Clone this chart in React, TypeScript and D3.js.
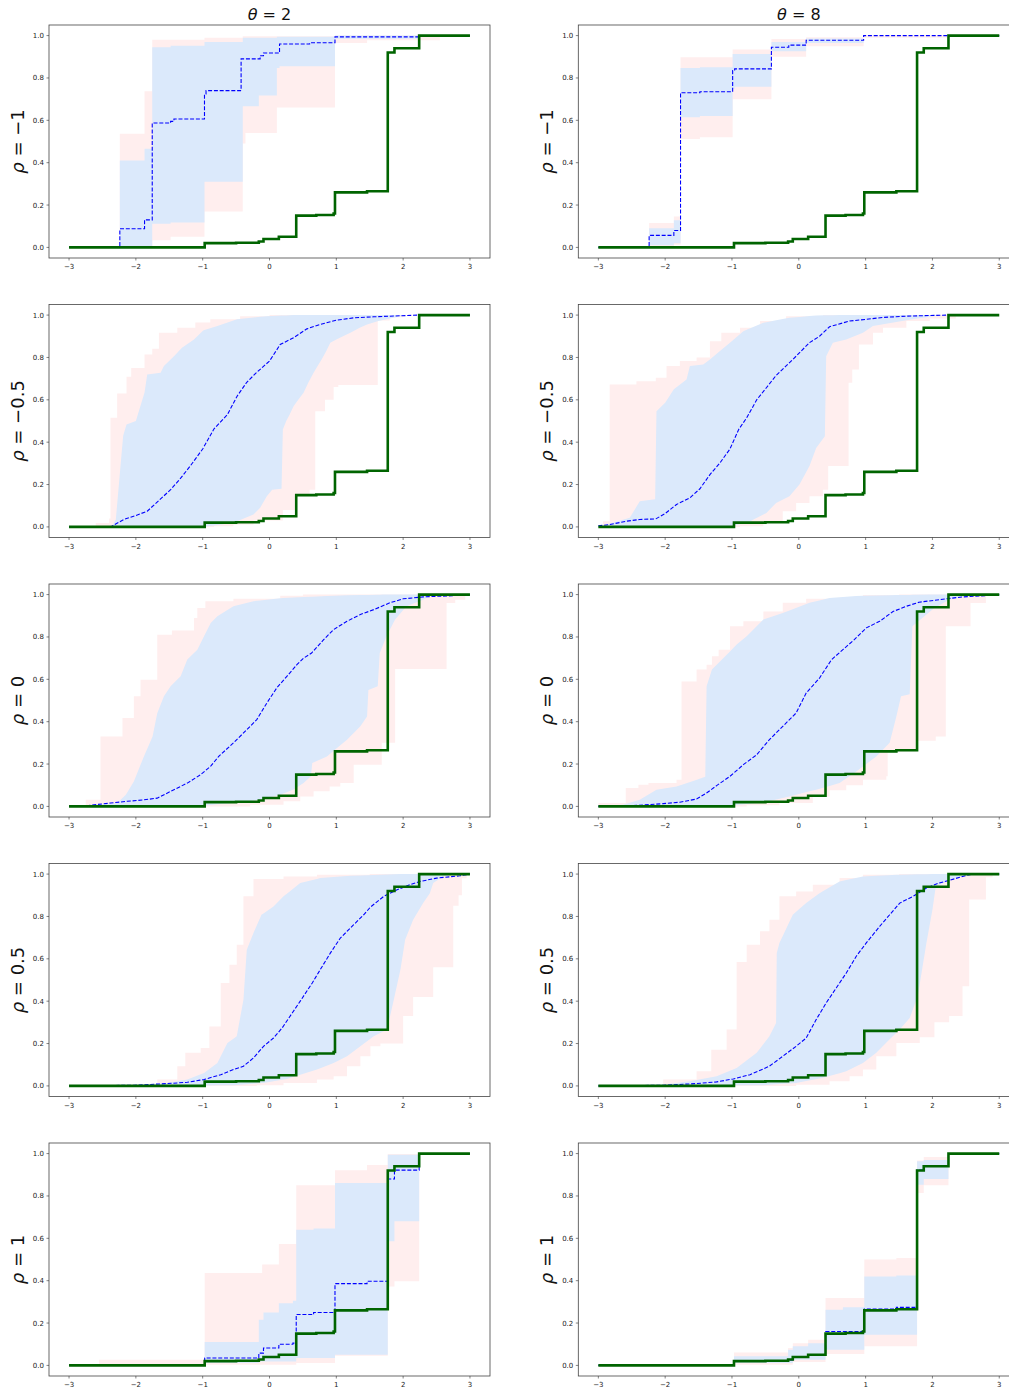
import React from 'react';
import * as d3 from 'd3';

type Pt = [number, number];

// ---------- data ----------
const thetaLabels = ['2', '8'];
const rhoLabels = ['\u22121', '\u22120.5', '0', '0.5', '1'];
const xTicks = [-3, -2, -1, 0, 1, 2, 3];
const yTicks = [0, 0.2, 0.4, 0.6, 0.8, 1.0];

const greenPts: Pt[] = [[-3,0],[-0.97,0.02],[-0.5,0.022],[-0.16,0.028],[-0.09,0.04],[0.14,0.05],[0.40,0.15],[0.70,0.153],[0.96,0.16],[0.98,0.26],[1.46,0.265],[1.77,0.92],[1.87,0.94],[2.24,1],[3,1]];

// rho=-1, theta=2
const medA: Pt[] = [[-3,0],[-2.24,0.088],[-1.87,0.13],[-1.755,0.587],[-1.48,0.595],[-1.43,0.606],[-0.973,0.724],[-0.95,0.74],[-0.425,0.89],[-0.14,0.905],[-0.09,0.918],[0.15,0.96],[0.6,0.966],[0.98,0.994],[2.24,1]];
const blueLoA: Pt[] = [[-3,0],[-1.755,0.112],[-1.48,0.118],[-0.973,0.31],[-0.40,0.666],[-0.16,0.717],[0.11,0.847],[0.15,0.855],[0.98,0.985],[2.24,1]];
const blueHiA: Pt[] = [[-3,0],[-2.24,0.41],[-1.87,0.466],[-1.755,0.945],[-1.48,0.952],[-0.973,0.97],[-0.40,0.99],[0.11,0.995],[0.98,1]];
const pinkLoA: Pt[] = [[-3,0],[-1.755,0.034],[-1.48,0.05],[-0.973,0.17],[-0.40,0.49],[-0.36,0.54],[0.11,0.66],[0.98,0.965],[1.46,0.978],[2.55,1]];
const pinkHiA: Pt[] = [[-3,0],[-2.24,0.537],[-1.87,0.737],[-1.755,0.98],[-0.973,0.99],[-0.40,0.997],[0.98,1]];

// rho=-1, theta=8
const medB: Pt[] = [[-3,0],[-2.24,0.057],[-1.87,0.08],[-1.77,0.73],[-1.48,0.735],[-0.99,0.835],[-0.96,0.843],[-0.41,0.945],[-0.15,0.955],[0.11,0.978],[0.97,1.0]];
const blueLoB: Pt[] = [[-3,0],[-2.24,0.01],[-1.87,0.02],[-1.77,0.615],[-1.48,0.62],[-0.99,0.748],[-0.96,0.758],[-0.41,0.926],[0.11,0.965],[0.97,1]];
const blueHiB: Pt[] = [[-3,0],[-2.24,0.09],[-1.87,0.128],[-1.77,0.847],[-1.48,0.85],[-0.99,0.913],[-0.41,0.97],[0.11,0.986],[0.97,1]];
const pinkLoB: Pt[] = [[-3,0],[-1.87,0.012],[-1.77,0.512],[-1.48,0.52],[-0.99,0.70],[-0.41,0.90],[0.11,0.95],[0.97,0.99],[2.24,1]];
const pinkHiB: Pt[] = [[-3,0],[-2.24,0.115],[-1.87,0.146],[-1.77,0.898],[-0.99,0.934],[-0.41,0.984],[0.11,0.992],[0.97,1]];

// rho=-0.5, theta=2
const medC: Pt[] = [[-3,0],[-2.38,0.0],[-2.18,0.035],[-2.0,0.054],[-1.83,0.074],[-1.63,0.132],[-1.48,0.176],[-1.33,0.23],[-1.18,0.29],[-1.0,0.368],[-0.83,0.463],[-0.63,0.53],[-0.485,0.617],[-0.34,0.683],[-0.19,0.73],[0,0.783],[0.16,0.861],[0.36,0.893],[0.56,0.935],[0.76,0.956],[1.0,0.976],[1.26,0.987],[1.56,0.992],[2.23,1.0],[3,1]];
const blueLoC: Pt[] = [[-3,0],[-1.0,0.0],[-0.54,0.02],[-0.24,0.058],[-0.14,0.09],[-0.04,0.145],[0.04,0.176],[0.18,0.18],[0.2,0.46],[0.25,0.5],[0.3,0.53],[0.36,0.57],[0.43,0.6],[0.51,0.633],[0.58,0.68],[0.66,0.728],[0.72,0.76],[0.78,0.79],[0.85,0.83],[0.91,0.87],[1.0,0.885],[1.1,0.9],[1.21,0.917],[1.35,0.94],[1.46,0.956],[1.63,0.972],[1.855,0.987],[2.05,1]];
const blueHiC: Pt[] = [[-3,0],[-2.36,0.0],[-2.30,0.035],[-2.23,0.287],[-2.19,0.43],[-2.14,0.483],[-2.0,0.5],[-1.87,0.635],[-1.83,0.72],[-1.63,0.728],[-1.58,0.76],[-1.43,0.806],[-1.31,0.846],[-1.13,0.885],[-0.985,0.929],[-0.78,0.948],[-0.485,0.98],[-0.04,0.995],[0.36,1]];
const pinkLoC: Pt[] = [[-3,0],[-0.83,0.003],[-0.54,0.011],[-0.24,0.03],[0.2,0.08],[0.41,0.15],[0.6,0.176],[0.685,0.546],[0.83,0.6],[0.96,0.66],[1.03,0.67],[1.62,0.975],[1.8,0.99],[2.0,1]];
const pinkHiC: Pt[] = [[-3,0],[-2.6,0.019],[-2.4,0.04],[-2.38,0.515],[-2.28,0.63],[-2.14,0.709],[-2.07,0.75],[-1.87,0.814],[-1.755,0.841],[-1.655,0.917],[-1.38,0.94],[-1.11,0.965],[-0.886,0.98],[-0.44,0.995],[0,1]];

// rho=-0.5, theta=8
const medD: Pt[] = [[-3,0.005],[-2.83,0.011],[-2.58,0.027],[-2.38,0.035],[-2.14,0.038],[-2.0,0.063],[-1.83,0.106],[-1.63,0.137],[-1.48,0.18],[-1.33,0.247],[-1.18,0.302],[-1.03,0.368],[-0.9,0.46],[-0.78,0.515],[-0.63,0.6],[-0.485,0.657],[-0.34,0.715],[-0.19,0.76],[-0.04,0.806],[0.16,0.87],[0.31,0.9],[0.46,0.945],[0.76,0.972],[1.01,0.98],[1.26,0.989],[1.61,0.995],[2.2,1],[3,1]];
const blueLoD: Pt[] = [[-3,0],[-1.08,0.0],[-0.78,0.019],[-0.485,0.066],[-0.34,0.113],[-0.14,0.145],[0.01,0.2],[0.16,0.287],[0.26,0.373],[0.39,0.428],[0.41,0.806],[0.51,0.87],[0.71,0.885],[0.96,0.917],[1.11,0.948],[1.46,0.967],[1.7,0.98],[2.15,1]];
const blueHiD: Pt[] = [[-3,0],[-2.53,0.043],[-2.38,0.121],[-2.15,0.13],[-2.13,0.546],[-2.0,0.586],[-1.87,0.65],[-1.68,0.696],[-1.63,0.76],[-1.43,0.767],[-1.33,0.79],[-1.18,0.83],[-1.03,0.87],[-0.83,0.924],[-0.53,0.964],[-0.14,0.987],[0.26,0.998],[0.6,1]];
const pinkLoD: Pt[] = [[-3,0],[-0.88,0.003],[-0.53,0.027],[-0.24,0.074],[-0.04,0.113],[0.16,0.145],[0.36,0.176],[0.44,0.287],[0.745,0.68],[0.8,0.743],[0.9,0.861],[1.11,0.917],[1.26,0.94],[1.61,0.972],[1.96,0.984],[2.35,0.995],[2.45,1]];
const pinkHiD: Pt[] = [[-3,0],[-2.93,0.027],[-2.83,0.672],[-2.43,0.688],[-2.14,0.704],[-1.98,0.76],[-1.78,0.783],[-1.53,0.8],[-1.33,0.877],[-1.16,0.917],[-0.88,0.94],[-0.58,0.972],[-0.19,0.995],[0.36,1]];

// rho=0, theta=2
const medE: Pt[] = [[-3,0],[-2.75,0.003],[-2.38,0.016],[-2.13,0.024],[-1.88,0.031],[-1.68,0.039],[-1.48,0.071],[-1.23,0.11],[-1.03,0.15],[-0.88,0.19],[-0.76,0.236],[-0.54,0.3],[-0.34,0.362],[-0.19,0.41],[-0.04,0.488],[0.11,0.56],[0.26,0.614],[0.41,0.669],[0.51,0.7],[0.63,0.724],[0.81,0.787],[0.96,0.835],[1.16,0.874],[1.36,0.906],[1.56,0.929],[1.8,0.961],[2.0,0.98],[2.3,0.989],[2.75,0.995],[3,1]];
const blueLoE: Pt[] = [[-3,0],[-1.03,0.003],[-0.54,0.016],[-0.14,0.031],[0.16,0.055],[0.36,0.08],[0.51,0.11],[0.62,0.142],[0.64,0.205],[0.86,0.236],[1.16,0.315],[1.36,0.378],[1.46,0.425],[1.48,0.55],[1.62,0.567],[1.65,0.724],[1.75,0.803],[1.88,0.882],[2.05,0.945],[2.3,0.976],[2.45,1]];
const blueHiE: Pt[] = [[-3,0],[-2.28,0.016],[-2.15,0.055],[-2.03,0.118],[-1.88,0.236],[-1.75,0.33],[-1.68,0.44],[-1.58,0.52],[-1.48,0.567],[-1.33,0.614],[-1.23,0.693],[-1.08,0.74],[-0.98,0.803],[-0.88,0.866],[-0.78,0.898],[-0.54,0.945],[-0.24,0.969],[0.21,0.984],[0.96,0.995],[1.7,1]];
const pinkLoE: Pt[] = [[-3,0],[-0.29,0.008],[0.21,0.024],[0.46,0.047],[0.66,0.071],[0.9,0.094],[1.06,0.11],[1.26,0.197],[1.68,0.3],[1.88,0.649],[2.65,0.96],[2.78,0.976],[2.93,1]];
const pinkHiE: Pt[] = [[-3,0],[-2.75,0.031],[-2.53,0.33],[-2.2,0.417],[-2.03,0.52],[-1.93,0.598],[-1.68,0.811],[-1.46,0.83],[-1.13,0.89],[-1.08,0.937],[-0.96,0.969],[-0.54,0.98],[0.16,0.995],[0.5,1]];

// rho=0, theta=8
const medF: Pt[] = [[-3,0],[-2.53,0.003],[-2.03,0.013],[-1.78,0.02],[-1.53,0.035],[-1.38,0.063],[-1.23,0.098],[-1.03,0.142],[-0.83,0.197],[-0.63,0.244],[-0.44,0.315],[-0.24,0.378],[-0.04,0.441],[0.11,0.535],[0.31,0.606],[0.49,0.693],[0.66,0.74],[0.83,0.787],[1.01,0.843],[1.21,0.874],[1.41,0.92],[1.61,0.945],[1.8,0.964],[2.1,0.976],[2.45,0.989],[2.8,0.995],[3,1]];
const blueLoF: Pt[] = [[-3,0],[-1.03,0.003],[-0.53,0.019],[-0.14,0.047],[0.26,0.079],[0.61,0.11],[0.86,0.165],[1.16,0.236],[1.36,0.3],[1.46,0.425],[1.53,0.52],[1.66,0.53],[1.7,0.85],[2.03,0.937],[2.25,0.976],[2.6,1]];
const blueHiF: Pt[] = [[-3,0],[-2.63,0.008],[-2.38,0.031],[-2.13,0.079],[-1.83,0.094],[-1.58,0.12],[-1.40,0.14],[-1.38,0.567],[-1.3,0.646],[-1.15,0.693],[-0.93,0.764],[-0.78,0.803],[-0.53,0.882],[-0.24,0.913],[0.16,0.961],[0.46,0.984],[0.96,0.995],[1.96,1]];
const pinkLoF: Pt[] = [[-3,0],[-0.78,0.005],[-0.29,0.016],[0.21,0.047],[0.46,0.076],[0.71,0.1],[0.96,0.126],[1.31,0.142],[1.33,0.26],[1.77,0.31],[2.05,0.33],[2.2,0.85],[2.57,0.96],[2.8,1]];
const pinkHiF: Pt[] = [[-3,0.016],[-2.59,0.087],[-2.4,0.102],[-2.25,0.11],[-1.83,0.126],[-1.755,0.59],[-1.53,0.646],[-1.38,0.669],[-1.3,0.709],[-1.2,0.74],[-1.03,0.85],[-0.83,0.874],[-0.53,0.92],[-0.24,0.961],[0.11,0.98],[0.96,0.998],[1.5,1]];

// rho=0.5, theta=2
const medG: Pt[] = [[-3,0],[-2.03,0.003],[-1.53,0.011],[-1.23,0.017],[-0.98,0.03],[-0.73,0.053],[-0.54,0.077],[-0.39,0.093],[-0.24,0.132],[-0.09,0.187],[0.06,0.226],[0.19,0.274],[0.34,0.344],[0.46,0.4],[0.64,0.486],[0.76,0.549],[0.91,0.627],[1.06,0.698],[1.26,0.761],[1.41,0.808],[1.51,0.844],[1.71,0.895],[1.91,0.926],[2.1,0.95],[2.25,0.965],[2.5,0.981],[2.85,0.992],[3,1]];
const blueLoG: Pt[] = [[-3,0],[-0.54,0.003],[-0.09,0.014],[0.26,0.033],[0.46,0.053],[0.71,0.077],[0.96,0.108],[1.16,0.14],[1.36,0.187],[1.56,0.234],[1.76,0.266],[1.86,0.407],[1.96,0.549],[2.03,0.69],[2.15,0.785],[2.3,0.863],[2.4,0.91],[2.45,0.958],[2.6,0.989],[2.75,1]];
const blueHiG: Pt[] = [[-3,0],[-2.03,0.003],[-1.53,0.014],[-1.23,0.03],[-0.98,0.061],[-0.78,0.108],[-0.63,0.203],[-0.49,0.234],[-0.39,0.407],[-0.34,0.643],[-0.24,0.722],[-0.12,0.808],[0.06,0.847],[0.21,0.895],[0.46,0.958],[0.76,0.981],[1.21,0.992],[1.96,1]];
const pinkLoG: Pt[] = [[-3,0],[-0.19,0.003],[0.21,0.014],[0.71,0.03],[0.96,0.046],[1.16,0.093],[1.36,0.14],[1.51,0.187],[1.66,0.2],[2.0,0.33],[2.15,0.42],[2.45,0.56],[2.75,0.85],[2.83,0.9],[2.88,0.98],[2.95,1]];
const pinkHiG: Pt[] = [[-3,0],[-2.13,0.006],[-1.68,0.03],[-1.38,0.093],[-1.26,0.156],[-1.03,0.179],[-0.9,0.281],[-0.73,0.486],[-0.6,0.572],[-0.49,0.667],[-0.39,0.895],[-0.24,0.977],[0.21,0.989],[0.71,0.997],[1.5,1]];

// rho=0.5, theta=8
const medH: Pt[] = [[-3,0],[-2.03,0.003],[-1.53,0.011],[-1.23,0.019],[-0.98,0.033],[-0.73,0.053],[-0.44,0.093],[-0.24,0.14],[-0.04,0.187],[0.11,0.226],[0.26,0.313],[0.41,0.392],[0.56,0.462],[0.71,0.533],[0.86,0.612],[1.01,0.675],[1.21,0.753],[1.36,0.808],[1.51,0.863],[1.71,0.895],[1.91,0.934],[2.1,0.958],[2.25,0.97],[2.45,0.989],[2.6,1],[3,1]];
const blueLoH: Pt[] = [[-3,0],[-0.54,0.003],[-0.04,0.014],[0.36,0.038],[0.71,0.069],[0.96,0.108],[1.16,0.156],[1.33,0.211],[1.51,0.266],[1.66,0.321],[1.78,0.423],[1.91,0.675],[2.0,0.832],[2.05,0.942],[2.25,0.97],[2.45,0.989],[2.6,1]];
const blueHiH: Pt[] = [[-3,0],[-2.03,0.006],[-1.63,0.022],[-1.23,0.046],[-0.93,0.085],[-0.63,0.156],[-0.44,0.234],[-0.34,0.297],[-0.33,0.627],[-0.29,0.675],[-0.09,0.808],[0.11,0.863],[0.31,0.91],[0.61,0.965],[0.96,0.989],[1.46,0.997],[2.0,1]];
const pinkLoH: Pt[] = [[-3,0],[-0.04,0.006],[0.46,0.022],[0.76,0.046],[0.96,0.077],[1.16,0.14],[1.46,0.203],[1.81,0.23],[2.03,0.3],[2.25,0.33],[2.45,0.47],[2.55,0.88],[2.8,0.985],[2.9,1]];
const pinkHiH: Pt[] = [[-3,0],[-2.03,0.03],[-1.53,0.069],[-1.31,0.171],[-1.08,0.266],[-0.93,0.585],[-0.78,0.667],[-0.58,0.73],[-0.44,0.785],[-0.29,0.895],[-0.04,0.918],[0.21,0.95],[0.61,0.981],[0.96,0.997],[1.5,1]];

// rho=1, theta=2
const medI: Pt[] = [[-3,0],[-0.97,0.035],[-0.16,0.058],[-0.09,0.082],[0.14,0.1],[0.35,0.105],[0.40,0.24],[0.66,0.25],[0.98,0.386],[1.46,0.397],[1.77,0.88],[1.87,0.922],[2.24,1]];
const blueLoI: Pt[] = [[-3,0],[-0.97,0.011],[-0.16,0.019],[0.40,0.035],[0.98,0.05],[1.77,0.586],[1.87,0.68],[2.24,1]];
const blueHiI: Pt[] = [[-3,0],[-0.97,0.11],[-0.16,0.216],[-0.09,0.25],[0.14,0.294],[0.35,0.305],[0.40,0.641],[0.66,0.646],[0.98,0.861],[1.77,0.995],[2.24,1]];
const pinkLoI: Pt[] = [[-3,0],[-0.97,0.003],[0.40,0.011],[0.98,0.046],[1.77,0.373],[1.87,0.397],[2.24,1]];
const pinkHiI: Pt[] = [[-3,0],[-2.55,0.027],[-0.97,0.436],[-0.11,0.476],[0.14,0.573],[0.40,0.85],[0.98,0.921],[1.46,0.946],[1.77,0.998],[2.24,1]];

// rho=1, theta=8
const medJ: Pt[] = [[-3,0],[-0.97,0.02],[-0.16,0.026],[-0.09,0.04],[0.14,0.05],[0.40,0.16],[0.96,0.162],[0.98,0.266],[1.46,0.274],[1.77,0.922],[1.87,0.942],[2.24,1]];
const blueLoJ: Pt[] = [[-3,0],[-0.97,0.011],[-0.09,0.027],[0.40,0.074],[0.98,0.145],[1.77,0.853],[1.87,0.88],[2.24,1]];
const blueHiJ: Pt[] = [[-3,0],[-0.97,0.043],[-0.16,0.074],[-0.09,0.09],[0.14,0.105],[0.40,0.263],[0.66,0.274],[0.98,0.42],[1.46,0.424],[1.77,0.964],[1.87,0.97],[2.24,1]];
const pinkLoJ: Pt[] = [[-3,0],[-0.97,0.003],[-0.09,0.016],[0.40,0.054],[0.98,0.09],[1.77,0.814],[1.87,0.85],[2.24,1]];
const pinkHiJ: Pt[] = [[-3,0],[-0.97,0.061],[-0.16,0.082],[-0.09,0.105],[0.14,0.121],[0.40,0.318],[0.98,0.5],[1.46,0.507],[1.77,0.967],[1.87,0.984],[2.24,1]];

const panels = [
  { row: 0, col: 0, med: medA, blueLo: blueLoA, blueHi: blueHiA, pinkLo: pinkLoA, pinkHi: pinkHiA, smooth: false },
  { row: 0, col: 1, med: medB, blueLo: blueLoB, blueHi: blueHiB, pinkLo: pinkLoB, pinkHi: pinkHiB, smooth: false },
  { row: 1, col: 0, med: medC, blueLo: blueLoC, blueHi: blueHiC, pinkLo: pinkLoC, pinkHi: pinkHiC, smooth: true },
  { row: 1, col: 1, med: medD, blueLo: blueLoD, blueHi: blueHiD, pinkLo: pinkLoD, pinkHi: pinkHiD, smooth: true },
  { row: 2, col: 0, med: medE, blueLo: blueLoE, blueHi: blueHiE, pinkLo: pinkLoE, pinkHi: pinkHiE, smooth: true },
  { row: 2, col: 1, med: medF, blueLo: blueLoF, blueHi: blueHiF, pinkLo: pinkLoF, pinkHi: pinkHiF, smooth: true },
  { row: 3, col: 0, med: medG, blueLo: blueLoG, blueHi: blueHiG, pinkLo: pinkLoG, pinkHi: pinkHiG, smooth: true },
  { row: 3, col: 1, med: medH, blueLo: blueLoH, blueHi: blueHiH, pinkLo: pinkLoH, pinkHi: pinkHiH, smooth: true },
  { row: 4, col: 0, med: medI, blueLo: blueLoI, blueHi: blueHiI, pinkLo: pinkLoI, pinkHi: pinkHiI, smooth: false },
  { row: 4, col: 1, med: medJ, blueLo: blueLoJ, blueHi: blueHiJ, pinkLo: pinkLoJ, pinkHi: pinkHiJ, smooth: false },
];

// ---------- layout ----------
const W = 1009, H = 1392;
const colLeft = [49, 578.3];
const rowTop = [25, 304.5, 584, 863.5, 1143];
const axW = 441, axH = 233;
const FONT = 'DejaVu Sans, Verdana, sans-serif';

function stepAt(pts: Pt[], x: number): number {
  let v = pts[0][1];
  for (const p of pts) { if (p[0] <= x + 1e-9) v = p[1]; else break; }
  return v;
}
function linAt(pts: Pt[], x: number): number {
  if (x <= pts[0][0]) return pts[0][1];
  for (let i = 1; i < pts.length; i++) {
    const a = pts[i - 1], b = pts[i];
    if (x <= b[0]) return b[0] === a[0] ? b[1] : a[1] + (b[1] - a[1]) * (x - a[0]) / (b[0] - a[0]);
  }
  return pts[pts.length - 1][1];
}
function bandData(lo: Pt[], hi: Pt[], linear: boolean) {
  const xs = Array.from(new Set([...lo.map(p => p[0]), ...hi.map(p => p[0]), -3, 3])).sort((a, b) => a - b);
  const f = linear ? linAt : stepAt;
  return xs.map(x => ({ x, lo: f(lo, x), hi: f(hi, x) }));
}
function extend(pts: Pt[]): Pt[] {
  const last = pts[pts.length - 1];
  return last[0] < 3 ? [...pts, [3, last[1]]] : pts;
}

function Panel({ p }: { p: typeof panels[number] }) {
  const left = colLeft[p.col], top = rowTop[p.row];
  const x = d3.scaleLinear().domain([-3.3, 3.3]).range([left, left + axW]);
  const y = d3.scaleLinear().domain([-0.05, 1.05]).range([top + axH, top]);
  const stepArea = d3.area<{ x: number; lo: number; hi: number }>()
    .x(d => x(d.x)).y0(d => y(d.lo)).y1(d => y(d.hi)).curve(d3.curveStepAfter);
  const linArea = d3.area<{ x: number; lo: number; hi: number }>()
    .x(d => x(d.x)).y0(d => y(d.lo)).y1(d => y(d.hi)).curve(d3.curveLinear);
  const stepLine = d3.line<Pt>().x(d => x(d[0])).y(d => y(d[1])).curve(d3.curveStepAfter);
  const linLine = d3.line<Pt>().x(d => x(d[0])).y(d => y(d[1])).curve(d3.curveLinear);
  const medPath = (p.smooth ? linLine : stepLine)(extend(p.med)) || '';
  const bluePath = p.smooth
    ? linArea(bandData(p.blueLo, p.blueHi, true))
    : stepArea(bandData(p.blueLo, p.blueHi, false));
  const fx = d3.format('d');
  const fy = d3.format('.1f');
  const clipId = `clip-${p.row}-${p.col}`;
  return (
    <g>
      <defs>
        <clipPath id={clipId}><rect x={left} y={top} width={axW} height={axH} /></clipPath>
      </defs>
      <g clipPath={`url(#${clipId})`}>
        <path d={stepArea(bandData(p.pinkLo, p.pinkHi, false)) || ''} fill="#ffeeee" stroke="none" />
        <path d={bluePath || ''} fill="#dbe9fb" stroke="none" />
        <path d={medPath} fill="none" stroke="#0000ff" strokeWidth={1.1} strokeDasharray="4,1.8" />
        <path d={stepLine(greenPts) || ''} fill="none" stroke="#006400" strokeWidth={2.6} />
      </g>
      <rect x={left} y={top} width={axW} height={axH} fill="none" stroke="#444" strokeWidth={0.8} />
      {xTicks.map(t => (
        <g key={'x' + t}>
          <line x1={x(t)} x2={x(t)} y1={top + axH} y2={top + axH + 2.5} stroke="#333" strokeWidth={0.6} />
          <text x={x(t)} y={top + axH + 11} fontSize={7} fontFamily={FONT} fill="#222" textAnchor="middle">{fx(t)}</text>
        </g>
      ))}
      {yTicks.map(t => (
        <g key={'y' + t}>
          <line x1={left - 2.5} x2={left} y1={y(t)} y2={y(t)} stroke="#333" strokeWidth={0.6} />
          <text x={left - 5} y={y(t) + 2.5} fontSize={7} fontFamily={FONT} fill="#222" textAnchor="end">{fy(t)}</text>
        </g>
      ))}
      {p.row === 0 && (
        <text x={left + axW / 2} y={top - 5} fontSize={16} fontFamily={FONT} fill="#111" textAnchor="middle">
          <tspan fontStyle="italic">θ</tspan> = {thetaLabels[p.col]}
        </text>
      )}
      <text transform={`translate(${left - 25},${top + axH / 2}) rotate(-90)`} fontSize={18} fontFamily={FONT} fill="#111" textAnchor="middle">
        <tspan fontStyle="italic">ρ</tspan> = {rhoLabels[p.row]}
      </text>
    </g>
  );
}

export default function App() {
  return (
    <svg width={W} height={H} style={{ position: 'absolute', left: 0, top: 0, background: '#fff' }} xmlns="http://www.w3.org/2000/svg">
      <rect x={0} y={0} width={W} height={H} fill="#fff" />
      {panels.map(p => <Panel key={`${p.row}-${p.col}`} p={p} />)}
    </svg>
  );
}
